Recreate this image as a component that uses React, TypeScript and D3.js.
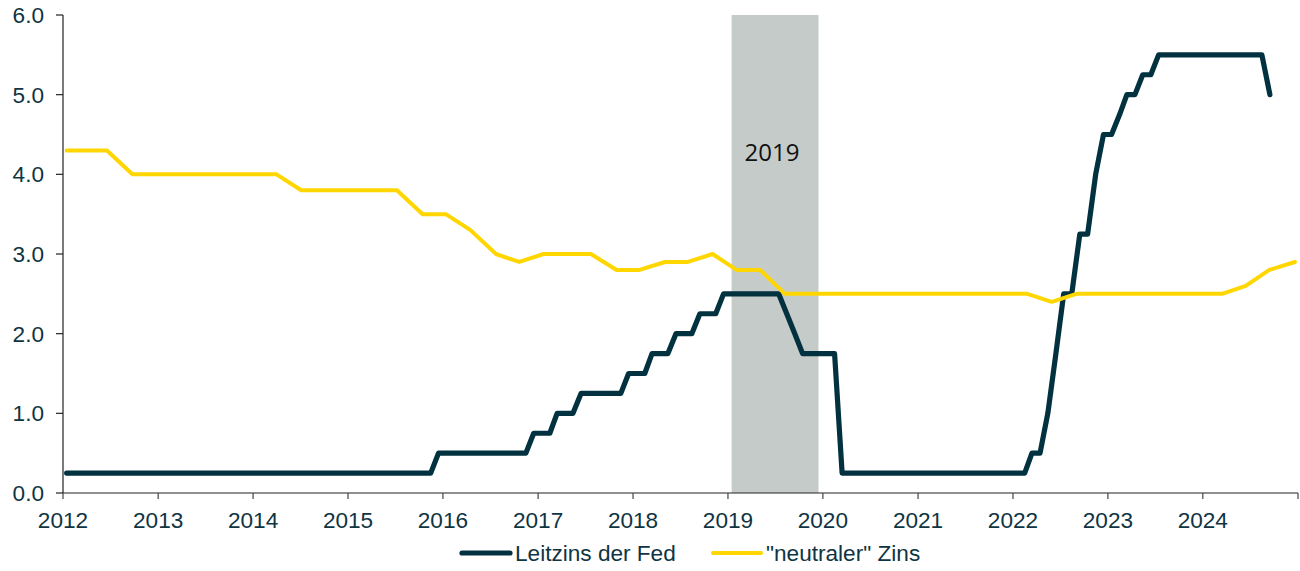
import React from "react";
import * as d3 from "d3";

// ---- Data ----
// Fed funds target (upper bound), monthly from Jan 2012 to Sep 2024
const fedStartMonth = "2012-01";
const fedValues: number[] = [
  // 2012
  0.25, 0.25, 0.25, 0.25, 0.25, 0.25, 0.25, 0.25, 0.25, 0.25, 0.25, 0.25,
  // 2013
  0.25, 0.25, 0.25, 0.25, 0.25, 0.25, 0.25, 0.25, 0.25, 0.25, 0.25, 0.25,
  // 2014
  0.25, 0.25, 0.25, 0.25, 0.25, 0.25, 0.25, 0.25, 0.25, 0.25, 0.25, 0.25,
  // 2015
  0.25, 0.25, 0.25, 0.25, 0.25, 0.25, 0.25, 0.25, 0.25, 0.25, 0.25, 0.5,
  // 2016
  0.5, 0.5, 0.5, 0.5, 0.5, 0.5, 0.5, 0.5, 0.5, 0.5, 0.5, 0.75,
  // 2017
  0.75, 0.75, 1.0, 1.0, 1.0, 1.25, 1.25, 1.25, 1.25, 1.25, 1.25, 1.5,
  // 2018
  1.5, 1.5, 1.75, 1.75, 1.75, 2.0, 2.0, 2.0, 2.25, 2.25, 2.25, 2.5,
  // 2019
  2.5, 2.5, 2.5, 2.5, 2.5, 2.5, 2.5, 2.25, 2.0, 1.75, 1.75, 1.75,
  // 2020
  1.75, 1.75, 0.25, 0.25, 0.25, 0.25, 0.25, 0.25, 0.25, 0.25, 0.25, 0.25,
  // 2021
  0.25, 0.25, 0.25, 0.25, 0.25, 0.25, 0.25, 0.25, 0.25, 0.25, 0.25, 0.25,
  // 2022
  0.25, 0.25, 0.5, 0.5, 1.0, 1.75, 2.5, 2.5, 3.25, 3.25, 4.0, 4.5,
  // 2023
  4.5, 4.75, 5.0, 5.0, 5.25, 5.25, 5.5, 5.5, 5.5, 5.5, 5.5, 5.5,
  // 2024
  5.5, 5.5, 5.5, 5.5, 5.5, 5.5, 5.5, 5.5, 5.0,
];

// "neutral" rate (FOMC longer-run median)
const neutralDates: string[] = [
  "2012-01-15", "2012-06-18", "2012-09-24", "2012-12-20",
  "2013-03-25", "2013-06-25", "2013-09-25", "2013-12-25",
  "2014-04-01", "2014-07-05", "2014-10-05", "2015-01-05",
  "2015-04-05", "2015-07-08", "2015-10-15", "2016-01-12",
  "2016-04-16", "2016-07-23", "2016-10-20", "2017-01-22",
  "2017-04-22", "2017-07-23", "2017-10-30", "2018-01-26",
  "2018-05-04", "2018-07-31", "2018-11-03", "2019-02-03",
  "2019-05-05", "2019-08-08", "2019-11-05", "2020-02-05",
  "2020-05-05", "2020-08-05", "2020-11-05", "2021-02-05",
  "2021-05-05", "2021-08-05", "2021-11-05", "2022-02-25",
  "2022-05-30", "2022-09-02", "2022-12-01", "2023-03-01",
  "2023-06-01", "2023-09-01", "2023-12-01", "2024-03-15",
  "2024-06-14", "2024-09-13", "2024-12-20",
];
const neutralValues: number[] = [
  4.3, 4.3, 4.0, 4.0,
  4.0, 4.0, 4.0, 4.0,
  4.0, 3.8, 3.8, 3.8,
  3.8, 3.8, 3.5, 3.5,
  3.3, 3.0, 2.9, 3.0,
  3.0, 3.0, 2.8, 2.8,
  2.9, 2.9, 3.0, 2.8,
  2.8, 2.5, 2.5, 2.5,
  2.5, 2.5, 2.5, 2.5,
  2.5, 2.5, 2.5, 2.5,
  2.4, 2.5, 2.5, 2.5,
  2.5, 2.5, 2.5, 2.5,
  2.6, 2.8, 2.9,
];

const yTicks: number[] = [0, 1, 2, 3, 4, 5, 6];
const xTickYears: number[] = [2012, 2013, 2014, 2015, 2016, 2017, 2018, 2019, 2020, 2021, 2022, 2023, 2024, 2025];
const xLabelYears: number[] = [2012, 2013, 2014, 2015, 2016, 2017, 2018, 2019, 2020, 2021, 2022, 2023, 2024];
const bandStart = "2019-01-15";
const bandEnd = "2019-12-15";
const bandLabel = "2019";
const seriesNames = ["Leitzins der Fed", "\"neutraler\" Zins"];

const FED_COLOR = "#02313f";
const NEUTRAL_COLOR = "#ffd600";
const TEXT_COLOR = "#0f3442";
const BAND_COLOR = "#c5cbc8";

export default function App() {
  const W = 1300;
  const H = 571;
  const left = 63;
  const right = 1298;
  const top = 15;
  const bottom = 493;

  const parse = d3.utcParse("%Y-%m-%d");
  const x = d3
    .scaleUtc()
    .domain([new Date(Date.UTC(2012, 0, 1)), new Date(Date.UTC(2025, 0, 1))])
    .range([left, right]);
  const y = d3.scaleLinear().domain([0, 6]).range([bottom, top]);

  const start = d3.utcParse("%Y-%m")(fedStartMonth) as Date;
  const fedPts = fedValues.map((v, i) => {
    const m = d3.utcMonth.offset(start, i);
    return { d: d3.utcDay.offset(m, 14), v };
  });
  const neutralPts = neutralDates.map((s, i) => ({ d: parse(s) as Date, v: neutralValues[i] }));

  const line = d3
    .line<{ d: Date; v: number }>()
    .x((p) => x(p.d))
    .y((p) => y(p.v));

  const bx0 = x(parse(bandStart) as Date);
  const bx1 = x(parse(bandEnd) as Date);

  const font = "'Liberation Sans', Arial, sans-serif";
  const fs = 22.6;

  return (
    <svg
      width={W}
      height={H}
      style={{ position: "absolute", left: 0, top: 0, background: "#fff" }}
    >
      {/* highlighted band */}
      <rect x={bx0} y={top} width={bx1 - bx0} height={bottom - top} fill={BAND_COLOR} />
      <text
        x={(bx0 + bx1) / 2 - 3}
        y={161}
        textAnchor="middle"
        fontFamily="'Open Sans', 'Noto Sans', sans-serif"
        fontSize={24}
        fill="#111"
      >
        {bandLabel}
      </text>

      {/* y axis */}
      <line x1={left} x2={left} y1={top} y2={bottom} stroke="#222" strokeWidth={1.2} />
      {yTicks.map((t) => (
        <g key={"y" + t}>
          <line x1={left - 7} x2={left} y1={y(t)} y2={y(t)} stroke="#222" strokeWidth={1.2} />
          <text
            x={44}
            y={y(t)}
            dy="0.35em"
            textAnchor="end"
            fontFamily={font}
            fontSize={fs}
            fill={TEXT_COLOR}
          >
            {d3.format(".1f")(t)}
          </text>
        </g>
      ))}

      {/* x axis */}
      <line x1={left} x2={right} y1={bottom} y2={bottom} stroke="#222" strokeWidth={1.2} />
      {xTickYears.map((yr) => {
        const xx = x(new Date(Date.UTC(yr, 0, 1)));
        return <line key={"xt" + yr} x1={xx} x2={xx} y1={bottom} y2={bottom + 6} stroke="#444" strokeWidth={1.2} />;
      })}
      {xLabelYears.map((yr) => {
        const xx = x(new Date(Date.UTC(yr, 0, 1)));
        return (
          <text
            key={"xl" + yr}
            x={xx}
            y={528}
            textAnchor="middle"
            fontFamily={font}
            fontSize={fs}
            fill={TEXT_COLOR}
          >
            {yr}
          </text>
        );
      })}

      {/* series */}
      <path
        d={line(fedPts) || ""}
        fill="none"
        stroke={FED_COLOR}
        strokeWidth={5.2}
        strokeLinejoin="round"
        strokeLinecap="round"
      />
      <path
        d={line(neutralPts) || ""}
        fill="none"
        stroke={NEUTRAL_COLOR}
        strokeWidth={4}
        strokeLinejoin="round"
        strokeLinecap="round"
      />

      {/* legend */}
      <line x1={462} x2={510} y1={553} y2={553} stroke={FED_COLOR} strokeWidth={5.2} strokeLinecap="round" />
      <text x={515} y={553} dy="0.35em" fontFamily={font} fontSize={fs} fill={TEXT_COLOR}>
        {seriesNames[0]}
      </text>
      <line x1={713} x2={761} y1={553} y2={553} stroke={NEUTRAL_COLOR} strokeWidth={4} strokeLinecap="round" />
      <text x={766} y={553} dy="0.35em" fontFamily={font} fontSize={fs} fill={TEXT_COLOR}>
        {seriesNames[1]}
      </text>
    </svg>
  );
}
